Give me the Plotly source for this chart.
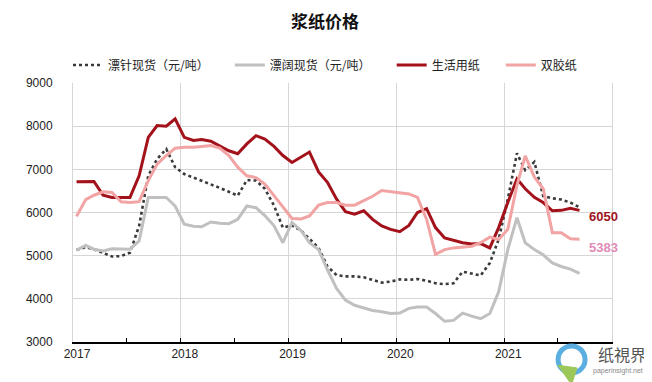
import pandas as pd
import plotly.graph_objects as go

months = pd.date_range("2017-01-01", "2021-09-01", freq="MS").strftime("%Y-%m").tolist()

nbsk = [5130, 5200, 5150, 5055, 4980, 4990, 5070, 5690, 6850, 7240, 7470, 7050, 6890, 6810,
        6740, 6660, 6570, 6480, 6390, 6750, 6740, 6550, 6160, 5650, 5700, 5580, 5380,
        5180, 4750, 4550, 4520, 4520, 4500, 4440, 4375, 4400, 4450, 4440, 4460, 4420,
        4360, 4340, 4360, 4630, 4590, 4540, 4830, 5375, 6310, 7370, 6980, 7170, 6380,
        6330, 6300, 6230, 6120]
bhkp = [5130, 5240, 5150, 5110, 5160, 5160, 5150, 5340, 6350, 6350, 6350, 6150, 5730, 5680,
        5670, 5780, 5750, 5740, 5840, 6150, 6110, 5930, 5690, 5300, 5770, 5580, 5300,
        5140, 4670, 4240, 3970, 3850, 3790, 3730, 3700, 3660, 3670, 3780, 3810, 3810,
        3660, 3480, 3500, 3670, 3600, 3540, 3660, 4160, 5140, 5880, 5300, 5140, 5020,
        4830, 4750, 4690, 4590]
tissue = [6713, 6720, 6720, 6400, 6350, 6350, 6350, 6850, 7740, 8015, 8000, 8170, 7740, 7670,
          7690, 7650, 7550, 7430, 7360, 7590, 7780, 7700, 7530, 7320, 7160, 7280, 7400,
          6940, 6700, 6310, 6020, 5960, 6040, 5840, 5690, 5610, 5555, 5700, 6000, 6090,
          5650, 5410, 5360, 5300, 5270, 5280, 5180, 5650, 6230, 6780, 6550, 6350, 6230,
          6040, 6050, 6100, 6050]
woodfree = [5910, 6300, 6400, 6480, 6465, 6250, 6230, 6250, 6740, 7120, 7320, 7490, 7510, 7510,
            7530, 7550, 7490, 7320, 7050, 6850, 6810, 6660, 6390, 6120, 5860, 5850, 5920,
            6170, 6230, 6230, 6170, 6170, 6270, 6375, 6510, 6480, 6450, 6430, 6350, 5840,
            5030, 5140, 5180, 5200, 5220, 5300, 5430, 5375, 5610, 6630, 7310, 6820, 6550,
            5530, 5530, 5390, 5383]

names = ["漂针现货（元/吨）", "漂阔现货（元/吨）", "生活用纸", "双胶纸"]
years = ["2017", "2018", "2019", "2020", "2021"]
end_labels = ["6050", "5383"]

x = pd.to_datetime(months) + pd.Timedelta(days=12)

font_family = "Liberation Sans, Noto Sans CJK SC, sans-serif"
pad = "\u00a0" * 6

fig = go.Figure()
fig.add_trace(go.Scatter(x=x, y=nbsk, name=names[0] + pad, mode="lines",
                         line=dict(color="#3a3a3a", width=2.6, dash="dot")))
fig.add_trace(go.Scatter(x=x, y=bhkp, name=names[1] + pad, mode="lines",
                         line=dict(color="#c0c0c0", width=3)))
fig.add_trace(go.Scatter(x=x, y=tissue, name=names[2] + pad, mode="lines",
                         line=dict(color="#a3121b", width=3)))
fig.add_trace(go.Scatter(x=x, y=woodfree, name=names[3], mode="lines",
                         line=dict(color="#f2a3a3", width=3)))

fig.add_annotation(x=x[-1], y=tissue[-1], text="<b>" + end_labels[0] + "</b>", showarrow=False,
                   xanchor="left", xshift=7, yshift=-6,
                   font=dict(size=13, color="#a0141e", family=font_family))
fig.add_annotation(x=x[-1], y=woodfree[-1], text="<b>" + end_labels[1] + "</b>", showarrow=False,
                   xanchor="left", xshift=7, yshift=-8,
                   font=dict(size=13, color="#e08cb8", family=font_family))

# watermark (logo + text)
fig.add_shape(type="circle", xref="paper", yref="paper",
              x0=0.900, x1=0.950, y0=-0.12, y1=-0.015,
              line=dict(color="#5aaee0", width=5), fillcolor="rgba(0,0,0,0)")
fig.add_shape(type="path", xref="paper", yref="paper",
              path="M 0.900 -0.09 L 0.925 -0.165 L 0.935 -0.10 Z",
              line=dict(color="#9cc85a", width=1), fillcolor="#9cc85a")
fig.add_annotation(xref="paper", yref="paper", x=1.067, y=-0.045, text="纸視界", showarrow=False,
                   xanchor="right", yanchor="middle",
                   font=dict(size=16, color="#555555", family="Noto Sans CJK SC"))
fig.add_annotation(xref="paper", yref="paper", x=1.062, y=-0.112, text="paperinsight.net", showarrow=False,
                   xanchor="right", yanchor="middle",
                   font=dict(size=7, color="#888888", family=font_family))

tickvals = [pd.Timestamp(f"{y}-01-01") for y in years]
fig.update_layout(
    width=644, height=374,
    margin=dict(l=65, r=40, t=75, b=40),
    paper_bgcolor="white", plot_bgcolor="white",
    title=dict(text="<b>浆纸价格</b>", xref="paper", x=0.4675, xanchor="center",
               y=0.9626, yanchor="middle",
               font=dict(size=17, color="#111111", family="Noto Sans CJK SC")),
    legend=dict(orientation="h", x=0.4675, xanchor="center", y=1.0695, yanchor="middle",
                font=dict(size=12, color="#222222", family="Noto Sans CJK SC"),
                itemwidth=30, tracegroupgap=0),
    showlegend=True,
)
fig.update_xaxes(
    range=[pd.Timestamp("2017-01-01"), pd.Timestamp("2022-01-01")],
    tickvals=tickvals + [pd.Timestamp("2022-01-01")], ticktext=years + [""],
    showgrid=True, gridcolor="#d6d6d6", gridwidth=1,
    showline=True, linecolor="#000000", linewidth=1.5,
    ticks="inside", ticklen=4, tickcolor="#000000",
    ticklabelshift=4,
    minor=dict(tickvals=[pd.Timestamp(f"{y}-07-01") for y in years], ticks="inside",
               ticklen=4, tickcolor="#000000", showgrid=False),
    tickfont=dict(size=12, color="#222222", family=font_family),
)
fig.update_yaxes(
    range=[3000, 9000], dtick=1000, tick0=3000,
    showgrid=True, gridcolor="#d6d6d6", gridwidth=1,
    showline=True, linecolor="#d6d6d6", linewidth=1, mirror=True,
    ticks="", ticklabelstandoff=17,
    tickfont=dict(size=12, color="#222222", family=font_family),
    zeroline=False,
)
fig.write_html("out.html")
